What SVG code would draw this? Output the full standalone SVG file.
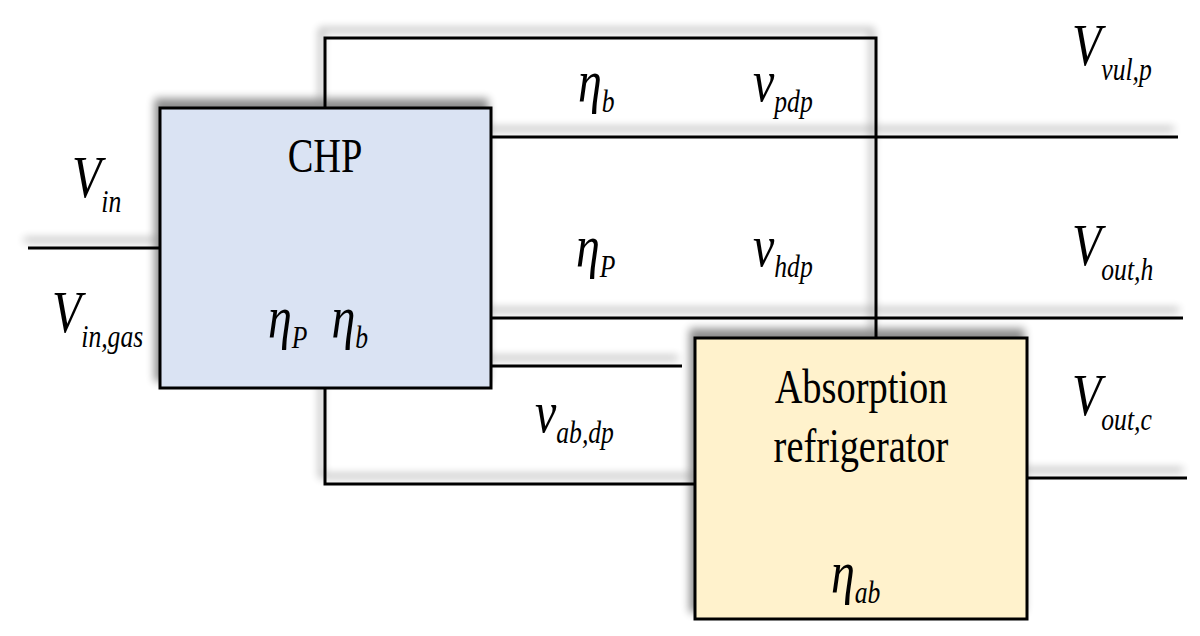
<svg xmlns="http://www.w3.org/2000/svg" width="1200" height="636" viewBox="0 0 1200 636">
<defs>
<filter id="sh" x="-10%" y="-40%" width="120%" height="180%">
<feGaussianBlur in="SourceAlpha" stdDeviation="4" result="b"/>
<feOffset in="b" dx="-4" dy="-8" result="o"/>
<feComponentTransfer in="o" result="s"><feFuncA type="linear" slope="0.45"/></feComponentTransfer>
<feMerge><feMergeNode in="s"/><feMergeNode in="SourceGraphic"/></feMerge>
</filter>
<style>
.ln{stroke:#000;stroke-width:3;fill:none}
.box{stroke:#000;stroke-width:3}
.sym{font-family:"Liberation Serif","Times New Roman",serif;font-style:italic;font-size:60px;fill:#000}
.sub{font-size:32px}
.lbl{font-family:"Liberation Serif","Times New Roman",serif;font-size:48px;text-anchor:middle;fill:#000}
</style>
</defs>
<rect width="1200" height="636" fill="#fff"/>
<g id="connectors" filter="url(#sh)">
<path class="ln" d="M28,248 H160"/>
<path class="ln" d="M325,108 V38 H876 V338"/>
<path class="ln" d="M491,137 H1178"/>
<path class="ln" d="M491,318 H1183"/>
<path class="ln" d="M491,366 H682"/>
<path class="ln" d="M325,388 V484 H695"/>
<path class="ln" d="M1027,478 H1187"/>
</g>
<g id="chp">
<rect class="box" x="160" y="108" width="331" height="280" fill="#dae3f3" filter="url(#sh)"/>
<text class="lbl" transform="translate(325,172) scale(0.8,1)">CHP</text>
<text class="sym" transform="translate(268,337) scale(0.8,1)">η<tspan class="sub" dy="11">P</tspan><tspan dx="30" dy="-11">η</tspan><tspan class="sub" dy="11">b</tspan></text>
</g>
<g id="absorption">
<rect class="box" x="695" y="338" width="332" height="281" fill="#fff2cc" filter="url(#sh)"/>
<text class="lbl" transform="translate(861,403) scale(0.8,1)">Absorption</text>
<text class="lbl" transform="translate(861,462) scale(0.8,1)">refrigerator</text>
<text class="sym" transform="translate(831,592) scale(0.8,1)">η<tspan class="sub" dy="11">ab</tspan></text>
</g>
<g id="labels">
<text class="sym" transform="translate(72,197) scale(0.8,1)">V<tspan class="sub" dy="15">in</tspan></text>
<text class="sym" transform="translate(52,332) scale(0.8,1)">V<tspan class="sub" dy="15">in,gas</tspan></text>
<text class="sym" transform="translate(1072,65) scale(0.8,1)">V<tspan class="sub" dy="15">vul,p</tspan></text>
<text class="sym" transform="translate(1072,265) scale(0.8,1)">V<tspan class="sub" dy="15">out,h</tspan></text>
<text class="sym" transform="translate(1072,415) scale(0.8,1)">V<tspan class="sub" dy="15">out,c</tspan></text>
<text class="sym" transform="translate(578,101) scale(0.8,1)">η<tspan class="sub" dy="11">b</tspan></text>
<text class="sym" transform="translate(753,101) scale(0.8,1)">v<tspan class="sub" dy="11">pdp</tspan></text>
<text class="sym" transform="translate(576,266) scale(0.8,1)">η<tspan class="sub" dy="11">P</tspan></text>
<text class="sym" transform="translate(753,266) scale(0.8,1)">v<tspan class="sub" dy="11">hdp</tspan></text>
<text class="sym" transform="translate(535,432) scale(0.8,1)">v<tspan class="sub" dy="11">ab,dp</tspan></text>
</g>
</svg>
